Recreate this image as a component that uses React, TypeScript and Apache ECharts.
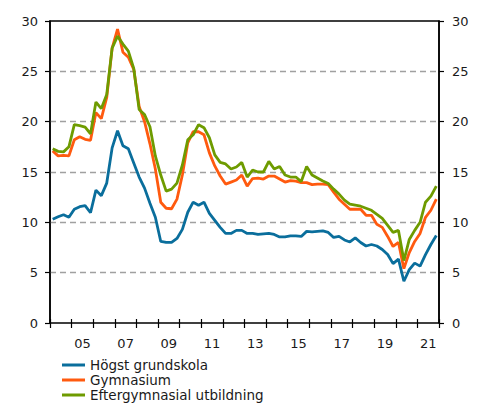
import React, { useEffect, useRef } from "react";
import * as echarts from "echarts";

const years: string[] = ["04","05","06","07","08","09","10","11","12","13","14","15","16","17","18","19","20","21"];
const quarters: string[] = [];
for (const y of years) for (const q of ["K1","K2","K3","K4"]) quarters.push("20" + y + q);

const hogstGrundskola: number[] = [
  10.3, 10.55, 10.75, 10.5, 11.3, 11.55, 11.65, 10.95,
  13.2, 12.65, 13.9, 17.4, 19.1, 17.6, 17.3, 15.9,
  14.5, 13.4, 11.9, 10.5, 8.1, 8.0, 8.0, 8.4,
  9.3, 11.0, 12.0, 11.7, 12.0, 10.9, 10.2, 9.5,
  8.9, 8.9, 9.2, 9.2, 8.9, 8.9, 8.8, 8.85,
  8.9, 8.8, 8.55, 8.55, 8.65, 8.65, 8.6, 9.1,
  9.05, 9.1, 9.15, 9.0, 8.5, 8.6, 8.25, 8.05,
  8.45, 8.0, 7.65, 7.8, 7.65, 7.3, 6.8, 5.9,
  6.35, 4.15, 5.3, 5.95, 5.65, 6.8, 7.8, 8.7,
];

const gymnasium: number[] = [
  17.1, 16.6, 16.65, 16.6, 18.2, 18.5, 18.25, 18.15,
  20.9, 20.3, 22.4, 27.3, 29.2, 26.9, 26.4, 25.2,
  21.5, 20.0, 17.8, 15.3, 12.0, 11.4, 11.35, 12.3,
  14.7, 17.9, 19.0, 19.0, 18.7, 16.9, 15.6, 14.6,
  13.8, 14.0, 14.2, 14.7, 13.6, 14.35, 14.4, 14.3,
  14.6, 14.6, 14.3, 14.0, 14.15, 14.1, 13.95, 13.95,
  13.75, 13.8, 13.8, 13.75, 13.0, 12.3, 11.8, 11.3,
  11.3, 11.3, 10.7, 10.7, 9.8, 9.5, 8.6, 7.6,
  8.0, 5.4, 7.0, 8.1, 8.9, 10.5, 11.2, 12.3,
];

const eftergymnasial: number[] = [
  17.3, 17.05, 17.0, 17.5, 19.7, 19.6, 19.45, 18.8,
  21.95, 21.3, 22.7, 27.3, 28.5, 27.7, 27.0, 25.3,
  21.2, 20.7, 19.5, 16.6, 14.7, 13.1, 13.3, 13.9,
  15.7, 18.2, 18.7, 19.7, 19.4, 18.4, 16.7, 15.95,
  15.8, 15.3, 15.5, 15.95, 14.5, 15.2, 15.0, 15.0,
  16.05, 15.3, 15.55, 14.7, 14.5, 14.5, 14.05, 15.55,
  14.7, 14.4, 14.1, 13.85, 13.3, 12.8, 12.2, 11.8,
  11.7, 11.6, 11.4, 11.2, 10.8, 10.4, 9.7, 9.0,
  9.2, 6.2, 8.3, 9.2, 10.0, 12.0, 12.6, 13.6,
];

const seriesNames = ["Högst grundskola", "Gymnasium", "Eftergymnasial utbildning"];
const colors = ["#0a6e9c", "#ff5a0f", "#6e9b00"];

const FONT = "DejaVu Sans";

export default function App() {
  const ref = useRef<HTMLDivElement>(null);
  useEffect(() => {
    if (!ref.current) return;
    const chart = echarts.init(ref.current, undefined, { renderer: "svg" });
    const yAxisCommon = {
      type: "value" as const,
      min: 0,
      max: 30,
      interval: 5,
      axisLine: { show: true, lineStyle: { color: "#000", width: 1.5 } },
      axisTick: { show: true, length: 5, lineStyle: { color: "#000", width: 1.2 } },
      axisLabel: { fontFamily: FONT, fontSize: 13, color: "#1a1a1a" },
    };
    chart.setOption({
      animation: false,
      color: colors,
      grid: {
        left: 50,
        right: 42,
        top: 21,
        bottom: 107,
        show: true,
        borderColor: "#000",
        borderWidth: 1.5,
        backgroundColor: "transparent",
      },
      legend: {
        orient: "vertical",
        left: 57,
        top: 353,
        icon: "rect",
        itemWidth: 23,
        itemHeight: 3,
        itemGap: 1,
        textStyle: { fontFamily: FONT, fontSize: 13.5, color: "#1a1a1a" },
        data: seriesNames,
      },
      xAxis: [
        {
          type: "category",
          data: years,
          position: "bottom",
          offset: -4,
          boundaryGap: true,
          axisLine: { show: false },
          axisTick: { show: true, length: 9, interval: 0, lineStyle: { color: "#000", width: 1.2 } },
          axisLabel: {
            interval: (index: number) => index % 2 === 1,
            margin: 18,
            fontFamily: FONT,
            fontSize: 13,
            color: "#1a1a1a",
          },
          splitLine: { show: false },
        },
        {
          type: "category",
          data: quarters,
          position: "top",
          boundaryGap: true,
          show: false,
        },
      ],
      yAxis: [
        {
          ...yAxisCommon,
          position: "left",
          axisLabel: { ...yAxisCommon.axisLabel, margin: 12 },
          splitLine: {
            show: true,
            showMinLine: false,
            showMaxLine: false,
            lineStyle: { color: "#a0a0a0", type: [6, 4], width: 1.3 },
          },
        },
        {
          ...yAxisCommon,
          position: "right",
          axisLabel: { ...yAxisCommon.axisLabel, margin: 13 },
          splitLine: { show: false },
        },
      ],
      series: [hogstGrundskola, gymnasium, eftergymnasial].map((d, k) => ({
        name: seriesNames[k],
        type: "line",
        xAxisIndex: 1,
        yAxisIndex: 0,
        data: d,
        symbol: "none",
        lineStyle: { width: 2.8, color: colors[k] },
        itemStyle: { color: colors[k] },
      })),
    });
    return () => chart.dispose();
  }, []);
  return (
    <div
      ref={ref}
      style={{ position: "fixed", left: 0, top: 0, width: 481, height: 430, background: "#fff" }}
    />
  );
}
